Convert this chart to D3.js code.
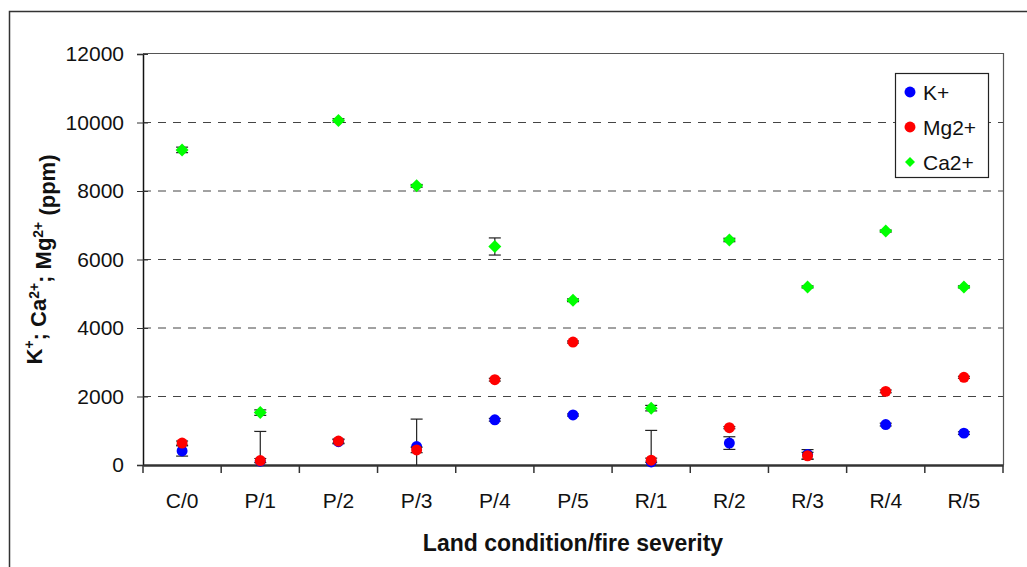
<!DOCTYPE html>
<html>
<head>
<meta charset="utf-8">
<script src="https://cdn.jsdelivr.net/npm/d3@7"></script>
<style>
  body { margin: 0; background: #fff; }
  text { font-family: "Liberation Sans", Arial, sans-serif; }
</style>
</head>
<body>
<script>
// datos
const categorias = ["C/0", "P/1", "P/2", "P/3", "P/4", "P/5", "R/1", "R/2", "R/3", "R/4", "R/5"];
const potasio   = [410, 110, 680, 540, 1320, 1460, 90, 640, 310, 1180, 930];
const potasioErr = [150, 870, 60, 800, 40, 30, 920, 185, 140, 40, 40];
const magnesio  = [640, 130, 700, 440, 2490, 3590, 140, 1090, 270, 2150, 2560];
const magnesioErr = [60, 60, 60, 80, 40, 30, 60, 30, 100, 40, 30];
const calcio    = [9200, 1530, 10060, 8150, 6380, 4810, 1660, 6570, 5200, 6830, 5200];
const calcioErr = [80, 80, 50, 40, 250, 40, 80, 50, 30, 30, 30];
const ticksY = [0, 2000, 4000, 6000, 8000, 10000, 12000];

const width = 1027;
const height = 567;
const margin = { left: 143, right: 24, top: 54, bottom: 102 };

const svg = d3.select("body")
    .append("svg")
    .attr("width", width)
    .attr("height", height);

// marco exterior
svg.append("path")
    .attr("d", `M9.5,${height} V11.5 H${width}`)
    .attr("fill", "none")
    .attr("stroke", "#333")
    .attr("stroke-width", 1.5);

const xScale = d3.scaleBand()
    .domain(categorias)
    .range([margin.left, width - margin.right]);

const yScale = d3.scaleLinear()
    .domain([0, 12000])
    .range([height - margin.bottom, margin.top]);

const cx = c => xScale(c) + xScale.bandwidth() / 2;

svg.append("defs").append("clipPath")
    .attr("id", "zona")
    .append("rect")
    .attr("x", margin.left)
    .attr("y", margin.top)
    .attr("width", width - margin.right - margin.left)
    .attr("height", height - margin.bottom - margin.top);

// lineas de rejilla
svg.append("g")
    .selectAll("line")
    .data(ticksY.filter(t => t > 0 && t < 12000))
    .enter()
    .append("line")
    .attr("x1", margin.left)
    .attr("x2", width - margin.right)
    .attr("y1", d => yScale(d))
    .attr("y2", d => yScale(d))
    .attr("stroke", "#444")
    .attr("stroke-width", 1)
    .attr("stroke-dasharray", "8,7");

// borde del area de trazado (arriba y derecha)
svg.append("path")
    .attr("d", `M${margin.left},${yScale(12000) - 0.5} H${width - margin.right + 0.5} V${yScale(0)}`)
    .attr("fill", "none")
    .attr("stroke", "#555")
    .attr("stroke-width", 1.2);

// eje Y
const ejeY = d3.axisLeft(yScale)
    .tickValues(ticksY)
    .tickFormat(d3.format("d"))
    .tickSize(6)
    .tickPadding(13);

const gY = svg.append("g")
    .attr("transform", "translate(" + margin.left + ",0)")
    .call(ejeY);
gY.select(".domain").attr("stroke", "#111").attr("stroke-width", 1.5);
gY.selectAll(".tick line").attr("x2", -6).attr("x1", 5).attr("stroke", "#333");
gY.selectAll(".tick text")
    .style("font-size", "21px")
    .attr("fill", "#111");

// eje X
const ejeX = d3.axisBottom(xScale)
    .tickSize(0)
    .tickPadding(28);

const gX = svg.append("g")
    .attr("transform", "translate(0," + (height - margin.bottom) + ")")
    .call(ejeX);
gX.select(".domain").attr("stroke", "#333").attr("stroke-width", 2.5);
gX.selectAll(".tick text")
    .style("font-size", "21px")
    .attr("fill", "#111");

// marcas entre categorias
svg.append("g")
    .selectAll("line")
    .data(categorias.concat(["fin"]))
    .enter()
    .append("line")
    .attr("x1", (d, i) => i < categorias.length ? xScale(d) : width - margin.right)
    .attr("x2", (d, i) => i < categorias.length ? xScale(d) : width - margin.right)
    .attr("y1", height - margin.bottom)
    .attr("y2", height - margin.bottom + 8)
    .attr("stroke", "#333")
    .attr("stroke-width", 1.5);

// titulos de ejes
svg.append("text")
    .attr("x", (margin.left + width - margin.right) / 2)
    .attr("y", 551)
    .attr("text-anchor", "middle")
    .style("font-size", "23px")
    .style("font-weight", "bold")
    .attr("fill", "#111")
    .text("Land condition/fire severity");

const tituloY = svg.append("text")
    .attr("transform", "translate(42," + ((margin.top + height - margin.bottom) / 2) + ") rotate(-90)")
    .attr("text-anchor", "middle")
    .style("font-size", "22px")
    .style("font-weight", "bold")
    .attr("fill", "#111");
[["K", false], ["+", true], ["; Ca", false], ["2+", true], ["; Mg", false], ["2+", true], [" (ppm)", false]]
    .forEach(([t, sup], i, arr) => {
        const prevSup = i > 0 && arr[i - 1][1];
        tituloY.append("tspan")
            .attr("dy", sup ? "-0.55em" : (prevSup ? "0.55em" : null))
            .style("font-size", sup ? "14px" : null)
            .text(t);
    });

// series
const series = [
    { nombre: "K+", valores: potasio, errores: potasioErr, color: "#0000ff", forma: "circulo" },
    { nombre: "Mg2+", valores: magnesio, errores: magnesioErr, color: "#ff0000", forma: "circulo" },
    { nombre: "Ca2+", valores: calcio, errores: calcioErr, color: "#00ff00", forma: "rombo" }
];

const simbolo = (forma) => forma === "circulo"
    ? d3.symbol().type(d3.symbolCircle).size(Math.PI * 30)()
    : "M0,-6.5L6.5,0L0,6.5L-6.5,0Z";

series.forEach(s => {
    const g = svg.append("g");
    const barras = g.append("g").attr("clip-path", "url(#zona)");
    s.valores.forEach((v, i) => {
        const x = cx(categorias[i]);
        const yTop = yScale(v + s.errores[i]);
        const yBot = yScale(Math.max(v - s.errores[i], -2000));
        barras.append("line")
            .attr("x1", x).attr("x2", x)
            .attr("y1", yTop).attr("y2", yBot)
            .attr("stroke", "#222").attr("stroke-width", 1.2);
        [yTop, yBot].forEach(yy => {
            barras.append("line")
                .attr("x1", x - 6).attr("x2", x + 6)
                .attr("y1", yy).attr("y2", yy)
                .attr("stroke", "#222").attr("stroke-width", 1.2);
        });
    });
    g.selectAll("path.marca")
        .data(s.valores)
        .enter()
        .append("path")
        .attr("class", "marca")
        .attr("d", simbolo(s.forma))
        .attr("transform", (d, i) => `translate(${cx(categorias[i])},${yScale(d)})`)
        .attr("fill", s.color);
});

// leyenda
const leyenda = svg.append("g");
leyenda.append("rect")
    .attr("x", 895.5).attr("y", 73.5)
    .attr("width", 93).attr("height", 104)
    .attr("fill", "#fff")
    .attr("stroke", "#222")
    .attr("stroke-width", 1.2);
series.forEach((s, i) => {
    const y = 92 + i * 35;
    leyenda.append("path")
        .attr("d", s.forma === "rombo" ? "M0,-5L5,0L0,5L-5,0Z" : simbolo(s.forma))
        .attr("transform", `translate(910,${y})`)
        .attr("fill", s.color);
    leyenda.append("text")
        .attr("x", 923)
        .attr("y", y + 7.5)
        .style("font-size", "21px")
        .attr("fill", "#111")
        .text(s.nombre);
});
</script>
</body>
</html>
